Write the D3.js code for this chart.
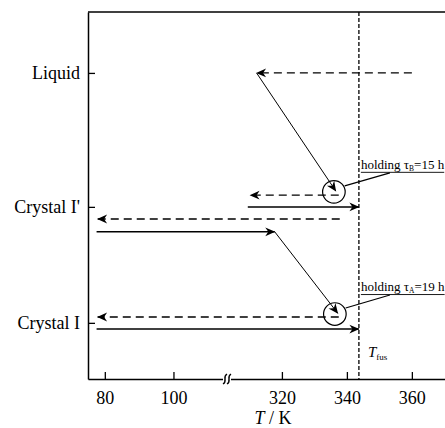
<!DOCTYPE html>
<html>
<head>
<meta charset="utf-8">
<script src="https://cdn.jsdelivr.net/npm/d3@7"></script>
<style>
  body { margin: 0; background: #fff; }
  svg { display: block; }
</style>
</head>
<body>
<script>
(function() {
  var width = 445, height = 428;

  // temperature axis (K), broken between the two segments
  var tempTicks = [80, 100, 320, 340, 360];
  var tempDomain = [75.1, 115.6, 303.1, 370.2];
  var tFus = 343.7;

  // states on the vertical axis and their levels (arbitrary units)
  var states = ["Liquid", "Crystal I'", "Crystal I"];
  var stateLevels = [8.34, 4.69, 1.53];

  // cooling runs (dashed), [T, level] pairs
  var coolingRuns = [
    [[360.0, 8.34], [312.2, 8.34]],
    [[337.5, 5.01], [310.2, 5.01]],
    [[337.8, 4.36], [77.9, 4.36]],
    [[337.5, 1.69], [77.9, 1.69]]
  ];

  // heating runs (solid horizontal)
  var heatingRuns = [
    [[309.5, 4.69], [343.7, 4.69]],
    [[77.6, 4.01], [317.8, 4.01]],
    [[77.6, 1.36], [343.7, 1.36]]
  ];

  // transitions into the holding circles (thin solid)
  var transitions = [
    [[312.2, 8.34], [336.6, 5.12]],
    [[317.8, 4.01], [337.2, 1.79]]
  ];

  // isothermal holdings
  var holdT = [336.0, 336.3];
  var holdLevel = [5.10, 1.77];
  var holdSub = ["B", "A"];
  var holdHours = [15, 19];

  var margin = { left: 88, top: 12, right: 0, bottom: 49 };

  var svg = d3.select("body").append("svg")
    .attr("width", width)
    .attr("height", height)
    .attr("font-family", "'Liberation Serif', 'Times New Roman', serif");

  var x = d3.scaleLinear()
    .domain(tempDomain)
    .range([margin.left, 227, 227, width]);

  var y = d3.scaleLinear()
    .domain([0, 10])
    .range([height - margin.bottom, margin.top]);

  var defs = svg.append("defs");
  defs.append("marker")
    .attr("id", "head")
    .attr("viewBox", "0 -5 10 10")
    .attr("refX", 9.5)
    .attr("refY", 0)
    .attr("markerUnits", "userSpaceOnUse")
    .attr("markerWidth", 11)
    .attr("markerHeight", 10)
    .attr("orient", "auto")
    .append("path")
    .attr("d", "M0,-4.4L10,0L0,4.4L3,0Z")
    .attr("fill", "#000");

  var line = d3.line()
    .x(function(d) { return x(d[0]); })
    .y(function(d) { return y(d[1]); });

  // T_fus line
  svg.append("line")
    .attr("x1", x(tFus)).attr("x2", x(tFus))
    .attr("y1", y(10)).attr("y2", y(0))
    .attr("stroke", "#000")
    .attr("stroke-width", 1.3)
    .attr("stroke-dasharray", "4,2");

  // top frame
  svg.append("line")
    .attr("x1", margin.left).attr("x2", width)
    .attr("y1", y(10)).attr("y2", y(10))
    .attr("stroke", "#000")
    .attr("stroke-width", 1.5);

  // x axis
  var xAxis = svg.append("g")
    .attr("transform", "translate(0," + y(0) + ")")
    .call(d3.axisBottom(x).tickValues(tempTicks).tickSize(-7).tickSizeOuter(0).tickPadding(12));
  xAxis.attr("font-family", null).attr("font-size", 18);
  xAxis.select(".domain").attr("stroke-width", 1.5);
  xAxis.selectAll(".tick line").attr("stroke-width", 1.3);
  xAxis.selectAll("text").attr("fill", "#000");

  // axis break
  var xb = x(tempDomain[1]);
  xAxis.append("rect")
    .attr("x", xb - 4).attr("y", -3)
    .attr("width", 8).attr("height", 6)
    .attr("fill", "#fff");
  [-2, 2].forEach(function(dx) {
    xAxis.append("path")
      .attr("d", "M" + (xb + dx - 2) + ",5 C" + (xb + dx + 3) + ",2 " + (xb + dx - 3) + ",-2 " + (xb + dx + 2) + ",-5")
      .attr("fill", "none")
      .attr("stroke", "#000")
      .attr("stroke-width", 1.4);
  });

  // y axis
  var yAxis = svg.append("g")
    .attr("transform", "translate(" + margin.left + ",0)")
    .call(d3.axisLeft(y).tickValues(stateLevels).tickFormat(function(d, i) { return states[i]; })
      .tickSize(-7).tickSizeOuter(0).tickPadding(8));
  yAxis.attr("font-family", null).attr("font-size", 18);
  yAxis.select(".domain").attr("stroke-width", 1.5);
  yAxis.selectAll(".tick line").attr("stroke-width", 1.3);
  yAxis.selectAll("text").attr("fill", "#000");

  // axis title
  var xt = svg.append("text")
    .attr("x", 273).attr("y", 424)
    .attr("text-anchor", "middle")
    .attr("font-size", 18);
  xt.append("tspan").attr("font-style", "italic").text("T");
  xt.append("tspan").text(" / K");

  // T_fus label
  var tf = svg.append("text")
    .attr("x", x(tFus) + 9).attr("y", 357)
    .attr("font-size", 15);
  tf.append("tspan").attr("font-style", "italic").text("T");
  tf.append("tspan").attr("font-size", 9).attr("dy", 3).text("fus");

  // cooling
  svg.selectAll(".cool").data(coolingRuns).enter().append("path")
    .attr("class", "cool")
    .attr("d", line)
    .attr("fill", "none")
    .attr("stroke", "#000")
    .attr("stroke-width", 1.3)
    .attr("stroke-dasharray", "8,5")
    .attr("marker-end", "url(#head)");

  // heating
  svg.selectAll(".heat").data(heatingRuns).enter().append("path")
    .attr("class", "heat")
    .attr("d", line)
    .attr("fill", "none")
    .attr("stroke", "#000")
    .attr("stroke-width", 1.5)
    .attr("marker-end", "url(#head)");

  // transitions
  svg.selectAll(".trans").data(transitions).enter().append("path")
    .attr("class", "trans")
    .attr("d", line)
    .attr("fill", "none")
    .attr("stroke", "#000")
    .attr("stroke-width", 1)
    .attr("marker-end", "url(#head)");

  // holding circles and labels
  holdT.forEach(function(t, i) {
    var cx = x(t), cy = y(holdLevel[i]);
    svg.append("circle")
      .attr("cx", cx).attr("cy", cy).attr("r", 11.3)
      .attr("fill", "none")
      .attr("stroke", "#000")
      .attr("stroke-width", 1.2);
    var lx = x(tFus) + 2, ly = cy - 23;
    svg.append("line")
      .attr("x1", cx + 10.8).attr("y1", cy - 6)
      .attr("x2", lx + 29).attr("y2", ly + 4)
      .attr("stroke", "#000")
      .attr("stroke-width", 1.2);
    var lab = svg.append("text")
      .attr("x", lx).attr("y", ly)
      .attr("font-size", 13);
    lab.append("tspan").text("holding \u03c4");
    lab.append("tspan").attr("font-size", 7.5).attr("dy", 2).text(holdSub[i]);
    lab.append("tspan").attr("dy", -2).text("=" + holdHours[i] + " h");
    var w = lab.node().getComputedTextLength();
    svg.append("line")
      .attr("x1", lx).attr("x2", lx + w)
      .attr("y1", ly + 3.5).attr("y2", ly + 3.5)
      .attr("stroke", "#000")
      .attr("stroke-width", 0.9);
  });
})();
</script>
</body>
</html>
